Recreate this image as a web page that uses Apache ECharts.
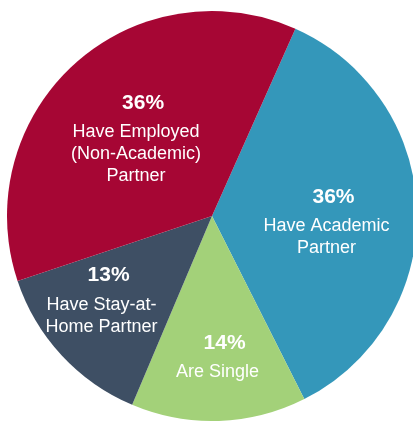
<!DOCTYPE html>
<html>
<head>
<meta charset="utf-8">
<script src="https://cdn.jsdelivr.net/npm/echarts@6/dist/echarts.min.js"></script>
<style>
  html, body { margin: 0; padding: 0; background: #fff; }
  #chart { width: 413px; height: 423px; }
</style>
</head>
<body>
<div id="chart"></div>
<script>
// slices go clockwise starting at the top-right
var categories = ["Have Academic\nPartner", "Are Single", "Have Stay-at-\nHome Partner", "Have Employed\n(Non-Academic)\nPartner"];
// slice sizes as measured off the arcs; the printed labels are rounded
var shares = [35.9, 13.8, 13.5, 36.8];
var labelPercents = [36, 14, 13, 36];
var colors = ["#3497BA", "#A3D179", "#3E4F64", "#A60634"];
// nudge labels to where the original has them
var labelOffsets = [[9, 6], [2, 33], [-33, 10], [-5, -2]];

var chart = echarts.init(document.getElementById("chart"));

var data = categories.map(function (name, i) {
    return {
        name: name,
        value: shares[i],
        pct: labelPercents[i],
        itemStyle: { color: colors[i] },
        label: { offset: labelOffsets[i] }
    };
});

chart.setOption({
    animation: false,
    series: [{
        type: "pie",
        silent: true,
        center: [212, 216],
        radius: 205,
        startAngle: 66,
        clockwise: true,
        avoidLabelOverlap: false,
        data: data,
        labelLine: { show: false },
        label: {
            show: true,
            position: "inside",
            align: "center",
            fontFamily: "Liberation Sans, Arial, sans-serif",
            formatter: function (p) {
                var lines = p.name.split("\n").map(function (l) {
                    return "{t|" + l + "}";
                });
                return "{p|" + p.data.pct + "%}\n" + lines.join("\n");
            },
            rich: {
                p: {
                    color: "#fff",
                    fontWeight: "bold",
                    fontSize: 21,
                    lineHeight: 36,
                    padding: [0, 0, 0, 14],
                    fontFamily: "Liberation Sans, Arial, sans-serif"
                },
                t: {
                    color: "#fff",
                    fontSize: 18,
                    lineHeight: 22,
                    fontFamily: "Liberation Sans, Arial, sans-serif"
                }
            }
        }
    }]
});
</script>
</body>
</html>
